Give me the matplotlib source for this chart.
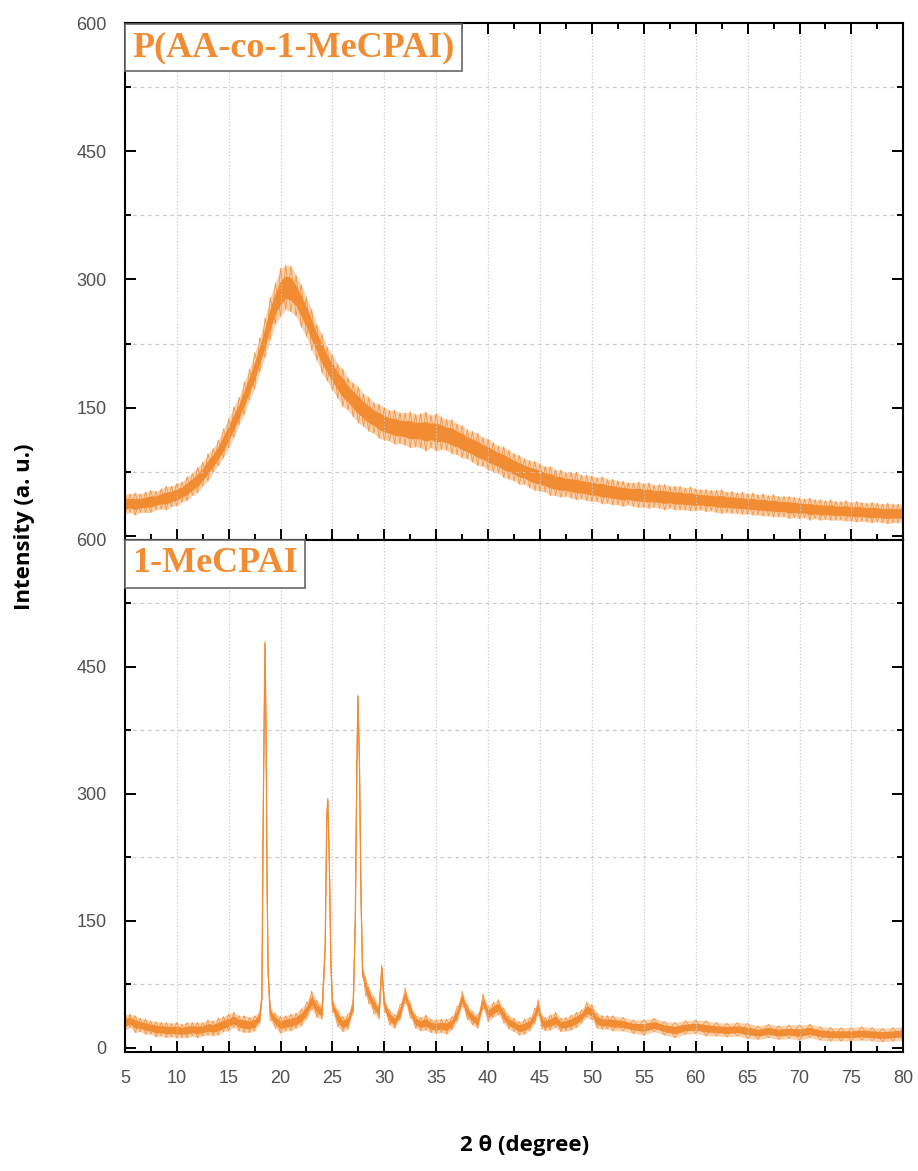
import numpy as np
import matplotlib.pyplot as plt
from matplotlib.ticker import MultipleLocator

# top pattern: P(AA-co-1-MeCPAI), 2theta every 0.5 deg
x_top = np.arange(5, 80.5, 0.5)
top_mid = [37, 38, 37, 38, 39, 40, 41, 43, 44, 46,
           48, 51, 55, 60, 65, 72, 80, 88, 97, 108,
           120, 133, 146, 161, 177, 193, 212, 232, 254, 272,
           285, 291, 289, 281, 269, 256, 241, 226, 213, 201,
           191, 181, 173, 166, 159, 153, 147, 142, 138, 134,
           131, 129, 127, 126, 125, 124, 123, 123, 122, 122,
           121, 120, 118, 116, 113, 110, 107, 104, 101, 98,
           95, 92, 89, 86, 83, 80, 77, 75, 72, 70,
           68, 66, 64, 62, 61, 60, 59, 58, 57, 56,
           55, 54, 53, 52, 51, 50, 49, 49, 48, 48,
           47, 47, 46, 46, 45, 45, 44, 44, 43, 43,
           42, 42, 41, 41, 40, 40, 39, 39, 38, 38,
           37, 37, 36, 36, 35, 35, 34, 34, 33, 33,
           32, 32, 31, 31, 30, 30, 30, 29, 29, 29,
           28, 28, 28, 27, 27, 27, 26, 26, 26, 26,
           26]
# half-width of the noise band
top_spread = [12, 11, 13, 11, 12, 13, 11, 12, 14, 12,
              13, 12, 14, 13, 15, 14, 16, 14, 15, 17,
              17, 18, 16, 19, 18, 21, 20, 23, 25, 24,
              28, 26, 27, 24, 25, 23, 24, 21, 23, 20,
              21, 20, 22, 19, 20, 21, 19, 20, 18, 20,
              19, 18, 20, 18, 19, 21, 19, 20, 23, 19,
              22, 19, 18, 20, 18, 19, 17, 18, 19, 17,
              18, 17, 16, 18, 17, 16, 17, 15, 16, 17,
              16, 15, 17, 15, 16, 14, 15, 16, 14, 15,
              15, 14, 16, 14, 15, 14, 15, 13, 14, 15,
              14, 15, 13, 14, 15, 13, 14, 14, 13, 14,
              13, 12, 13, 12, 13, 14, 12, 13, 12, 13,
              12, 13, 12, 13, 12, 13, 12, 12, 13, 12,
              12, 11, 13, 11, 12, 11, 12, 11, 11, 12,
              11, 12, 11, 11, 12, 11, 11, 12, 11, 11,
              11]

# bottom pattern: 1-MeCPAI
x_bot = [5.0, 5.5, 6.0, 6.5, 7.0, 7.5, 8.0, 8.5, 9.0, 9.5,
         10.0, 10.5, 11.0, 11.5, 12.0, 12.5, 13.0, 13.5, 14.0, 14.5,
         15.0, 15.5, 16.0, 16.5, 17.0, 17.5, 18.0, 18.2, 18.35, 18.5,
         18.6, 18.7, 18.8, 19.0, 19.5, 20.0, 20.5, 21.0, 21.5, 22.0,
         22.5, 23.0, 23.5, 24.0, 24.3, 24.45, 24.55, 24.7, 24.85, 25.0,
         25.5, 26.0, 26.5, 27.0, 27.2, 27.35, 27.45, 27.6, 27.75, 27.9,
         28.2, 28.5, 29.0, 29.5, 29.75, 30.0, 30.5, 31.0, 31.5, 32.0,
         32.5, 33.0, 33.5, 34.0, 34.5, 35.0, 35.5, 36.0, 36.5, 37.0,
         37.5, 38.0, 38.5, 39.0, 39.5, 40.0, 40.5, 41.0, 41.5, 42.0,
         42.5, 43.0, 43.5, 44.0, 44.5, 44.8, 45.2, 45.5, 46.0, 46.5,
         47.0, 47.5, 48.0, 48.5, 49.0, 49.5, 50.0, 50.5, 51.0, 51.5,
         52, 53, 54, 55, 56, 57, 58, 59, 60, 61,
         62, 63, 64, 65, 66, 67, 68, 69, 70, 71,
         72, 73, 74, 75, 76, 77, 78, 79, 80]
bot_mid = [30, 32, 28, 27, 25, 24, 22, 22, 21, 21,
           21, 20, 21, 22, 21, 22, 24, 23, 25, 28,
           30, 33, 29, 28, 27, 29, 36, 60, 300, 478,
           380, 200, 90, 40, 32, 27, 29, 30, 32, 36,
           44, 56, 46, 42, 120, 270, 293, 220, 100, 50,
           35, 28, 31, 50, 150, 330, 415, 340, 180, 90,
           72, 62, 50, 42, 95, 50, 36, 31, 42, 62,
           44, 31, 28, 30, 26, 25, 26, 25, 29, 40,
           58, 42, 35, 31, 55, 40, 45, 48, 38, 30,
           27, 23, 25, 28, 38, 48, 30, 28, 30, 33,
           27, 28, 30, 33, 37, 45, 42, 32, 30, 30,
           29, 28, 25, 24, 27, 23, 21, 24, 25, 23,
           22, 21, 22, 20, 18, 20, 18, 19, 18, 20,
           17, 16, 16, 16, 17, 16, 15, 16, 17]
bot_spread = [9, 8, 10, 8, 9, 8, 9, 8, 9, 8,
              9, 8, 9, 8, 9, 8, 9, 9, 10, 9,
              10, 9, 9, 10, 9, 9, 7, 3, 2, 2,
              2, 2, 3, 8, 9, 10, 9, 10, 9, 10,
              10, 11, 10, 8, 3, 2, 2, 2, 3, 8,
              10, 9, 9, 8, 3, 2, 2, 2, 3, 7,
              11, 10, 10, 8, 3, 8, 9, 8, 9, 9,
              9, 8, 8, 9, 8, 8, 8, 9, 8, 9,
              9, 9, 8, 8, 9, 9, 9, 9, 9, 8,
              8, 8, 9, 8, 9, 9, 8, 8, 9, 9,
              8, 8, 9, 9, 8, 9, 9, 9, 8, 8,
              9, 8, 8, 9, 8, 8, 9, 8, 8, 9,
              8, 8, 8, 9, 8, 8, 8, 8, 9, 8,
              8, 8, 8, 8, 8, 8, 8, 8, 8]

orange = '#F28C33'
x_ticks = list(range(5, 81, 5))


def draw_panel(ax, x, mid, spread, label, show_zero):
    x = np.asarray(x, dtype=float)
    mid = np.asarray(mid, dtype=float)
    spread = np.asarray(spread, dtype=float)
    lo, hi = mid - spread, mid + spread
    # noisy scan drawn as a band: solid core, pale rim, saw lines across it
    ax.fill_between(x, mid - 0.5 * spread, mid + 0.5 * spread, color=orange, lw=0)
    ax.fill_between(x, lo, hi, color=orange, alpha=0.4, lw=0)
    even = np.arange(len(x)) % 2 == 0
    ax.plot(x, np.where(even, hi, lo), color=orange, lw=0.6, alpha=0.85)
    ax.plot(x, np.where(even, lo, hi), color=orange, lw=0.6, alpha=0.85)
    ax.plot(x, mid, color=orange, lw=0.9)

    ax.set_xlim(5, 80)
    ax.set_ylim(-5, 600)
    ax.set_xticks(x_ticks)
    ax.xaxis.set_minor_locator(MultipleLocator(2.5))
    ax.set_yticks([0, 150, 300, 450, 600])
    ax.yaxis.set_minor_locator(MultipleLocator(75))
    if not show_zero:
        ax.set_yticklabels(['', '150', '300', '450', '600'])
    ax.grid(axis='x', which='major', color='#cccccc', ls=':', lw=0.9)
    ax.grid(axis='y', which='minor', color='#cccccc', ls=(0, (3, 3)), lw=0.9)
    ax.tick_params(which='both', direction='in', width=1.4, colors='black',
                   labelcolor='#505050', labelsize=13, pad=13)
    ax.tick_params(which='major', length=8)
    ax.tick_params(which='minor', length=4)
    for lab in ax.get_xticklabels() + ax.get_yticklabels():
        lab.set_family('Liberation Sans')
    for s in ax.spines.values():
        s.set_linewidth(1.5)

    ax.annotate(label, xy=(0.0, 1.0), xycoords='axes fraction',
                xytext=(5.5, -5.5), textcoords='offset points',
                ha='left', va='top', family='Liberation Serif',
                fontweight='bold', fontsize=26, color=orange, zorder=5,
                bbox=dict(boxstyle='square,pad=0.2', fc='white', ec='#666666', lw=1.2))


fig = plt.figure(figsize=(9.18, 11.71), dpi=100)
ax_top = fig.add_axes([0.136, 0.539, 0.848, 0.441])
ax_bot = fig.add_axes([0.136, 0.1016, 0.848, 0.4374])

draw_panel(ax_top, x_top, top_mid, top_spread, 'P(AA-co-1-MeCPAI)', False)
draw_panel(ax_bot, x_bot, bot_mid, bot_spread, '1-MeCPAI', True)

ax_top.tick_params(which='both', top=True, right=True, bottom=True, labelbottom=False)
ax_bot.tick_params(which='both', top=False, right=True, bottom=True)

fig.text(0.571, 0.022, '2 θ (degree)', ha='center', va='center',
         fontsize=16, fontweight='bold', family='Open Sans')
fig.text(0.027, 0.55, 'Intensity (a. u.)', ha='center', va='center',
         rotation=90, fontsize=16, fontweight='bold', family='Open Sans')

fig.savefig('out.png', dpi=100)
